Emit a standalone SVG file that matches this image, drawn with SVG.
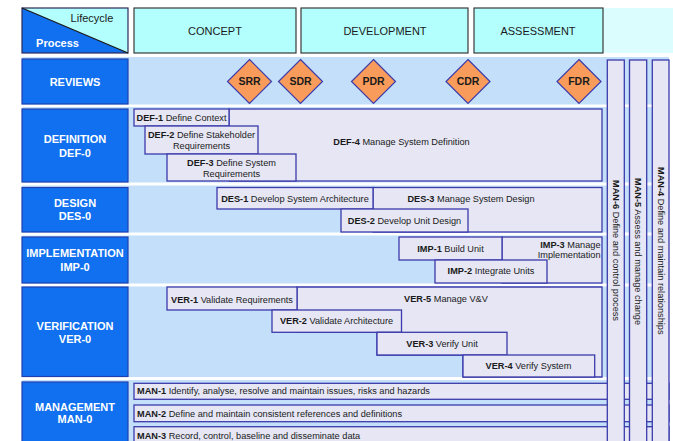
<svg xmlns="http://www.w3.org/2000/svg" width="673" height="441" viewBox="0 0 673 441">
<style>
text{font-family:"Liberation Sans",Arial,sans-serif;fill:#1a1a1a}
.lbl{fill:#1070ef;stroke:#2040b0;stroke-width:1.2}
.lt{font-size:11px;font-weight:bold;fill:#fff;text-anchor:middle}
.hdr{fill:#b3fffd;stroke:#3a3a3a;stroke-width:1.2}
.ht{font-size:11px;text-anchor:middle}
.box{fill:#e6e6f4;stroke:#3b3bab;stroke-width:1.3}
.pt{font-size:9.2px;text-anchor:middle}
.ptl{font-size:9.2px}
.pte{font-size:9.2px;text-anchor:end}
.b{font-weight:bold}
.dia{fill:#f99b5a;stroke:#3b3bab;stroke-width:1.2}
.dt{font-size:10.5px;font-weight:bold;text-anchor:middle}
.vt{font-size:9.2px;dominant-baseline:central}
.ws{fill:#ffffff}
</style>
<rect width="673" height="441" fill="#ffffff"/>
<!-- background -->
<rect x="603" y="8" width="70" height="45" fill="#dbfdfd"/>
<rect x="22" y="57" width="647" height="384" fill="#c4dff9"/>
<rect class="ws" x="22" y="104.5" width="647" height="2.5"/>
<rect class="ws" x="22" y="182.5" width="647" height="3"/>
<rect class="ws" x="22" y="232.5" width="647" height="3"/>
<rect class="ws" x="22" y="283.5" width="647" height="3"/>
<rect class="ws" x="22" y="377" width="647" height="3"/>

<g id="header-corner">
<polygon points="22,8 128,8 128,53" fill="#b3fffd"/>
<polygon points="22,8 22,53 128,53" fill="#1070ef"/>
<rect x="22" y="8" width="106" height="45" fill="none" stroke="#2a2a5a" stroke-width="1.2"/>
<line x1="22" y1="8" x2="128" y2="53" stroke="#1a1a1a" stroke-width="1.3"/>
<text x="92" y="22" class="ht">Lifecycle</text>
<text x="57.5" y="46.5" class="lt">Process</text>
</g>
<g id="concept"><rect class="hdr" x="134" y="8" width="162" height="45"/><text class="ht" x="215" y="35">CONCEPT</text></g>
<g id="development"><rect class="hdr" x="301" y="8" width="167" height="45"/><text class="ht" x="385" y="35">DEVELOPMENT</text></g>
<g id="assessment"><rect class="hdr" x="474" y="8" width="129" height="45"/><text class="ht" x="538" y="35">ASSESSMENT</text></g>

<g id="reviews"><rect class="lbl" x="22" y="59" width="106" height="45"/><text class="lt" x="75" y="86">REVIEWS</text></g>
<g id="srr"><polygon class="dia" points="249.5,59.5 271.5,81.5 249.5,103.5 227.5,81.5"/><text class="dt" x="249.5" y="85.3">SRR</text></g>
<g id="sdr"><polygon class="dia" points="300.5,59.5 322.5,81.5 300.5,103.5 278.5,81.5"/><text class="dt" x="300.5" y="85.3">SDR</text></g>
<g id="pdr"><polygon class="dia" points="373.5,59.5 395.5,81.5 373.5,103.5 351.5,81.5"/><text class="dt" x="373.5" y="85.3">PDR</text></g>
<g id="cdr"><polygon class="dia" points="468,59.5 490,81.5 468,103.5 446,81.5"/><text class="dt" x="468" y="85.3">CDR</text></g>
<g id="fdr"><polygon class="dia" points="579,59.5 601,81.5 579,103.5 557,81.5"/><text class="dt" x="579" y="85.3">FDR</text></g>

<g id="definition"><rect class="lbl" x="22" y="109" width="106" height="73"/><text class="lt" x="75" y="143">DEFINITION</text><text class="lt" x="75" y="156.5">DEF-0</text></g>
<g id="def-4"><rect class="box" x="229" y="109" width="373" height="72"/><text class="pt" x="401.5" y="145"><tspan class="b">DEF-4</tspan> Manage System Definition</text></g>
<g id="def-1"><rect class="box" x="134" y="109" width="95" height="17"/><text class="pt" x="181.5" y="121.3"><tspan class="b">DEF-1</tspan> Define Context</text></g>
<g id="def-2"><rect class="box" x="145" y="126" width="113" height="28"/><text class="pt" x="201.5" y="137.6"><tspan class="b">DEF-2</tspan> Define Stakeholder</text><text class="pt" x="201.5" y="149">Requirements</text></g>
<g id="def-3"><rect class="box" x="167" y="154" width="129" height="27"/><text class="pt" x="231.5" y="166"><tspan class="b">DEF-3</tspan> Define System</text><text class="pt" x="231.5" y="177.3">Requirements</text></g>

<g id="design"><rect class="lbl" x="22" y="187.5" width="106" height="44.5"/><text class="lt" x="75" y="207">DESIGN</text><text class="lt" x="75" y="220">DES-0</text></g>
<g id="des-3"><rect class="box" x="373" y="187.5" width="229" height="44.5"/><text class="pt" x="471" y="201.6"><tspan class="b">DES-3</tspan> Manage System Design</text></g>
<g id="des-1"><rect class="box" x="217" y="187.5" width="156" height="21.5"/><text class="pt" x="295" y="201.6"><tspan class="b">DES-1</tspan> Develop System Architecture</text></g>
<g id="des-2"><rect class="box" x="341" y="209" width="127" height="23"/><text class="pt" x="404.5" y="224"><tspan class="b">DES-2</tspan> Develop Unit Design</text></g>

<g id="implementation"><rect class="lbl" x="22" y="237" width="106" height="46"/><text class="lt" x="75" y="257.3">IMPLEMENTATION</text><text class="lt" x="75" y="270.7">IMP-0</text></g>
<g id="imp-3"><rect class="box" x="502" y="237" width="100" height="46"/><text class="pte" x="600.5" y="247.6"><tspan class="b">IMP-3</tspan> Manage</text><text class="pte" x="600.5" y="257.6">Implementation</text></g>
<g id="imp-1"><rect class="box" x="399" y="237" width="103" height="23"/><text class="pt" x="450.5" y="252"><tspan class="b">IMP-1</tspan> Build Unit</text></g>
<g id="imp-2"><rect class="box" x="435" y="260" width="112" height="23"/><text class="pt" x="491" y="274.3"><tspan class="b">IMP-2</tspan> Integrate Units</text></g>

<g id="verification"><rect class="lbl" x="22" y="287" width="106" height="89.5"/><text class="lt" x="75" y="330">VERIFICATION</text><text class="lt" x="75" y="343">VER-0</text></g>
<g id="ver-5"><polygon class="box" points="297,287 602,287 602,377 463,377 463,355 377,355 377,332 297,332"/><text class="pt" x="446" y="301.8"><tspan class="b">VER-5</tspan> Manage V&amp;V</text></g>
<g id="ver-1"><rect class="box" x="167" y="287" width="130" height="23"/><text class="pt" x="232" y="302.6"><tspan class="b">VER-1</tspan> Validate Requirements</text></g>
<g id="ver-2"><rect class="box" x="272" y="310" width="129.5" height="22.3"/><text class="pt" x="336.5" y="324"><tspan class="b">VER-2</tspan> Validate Architecture</text></g>
<g id="ver-3"><rect class="box" x="377" y="332.3" width="130" height="22.7"/><text class="pt" x="442" y="346.6"><tspan class="b">VER-3</tspan> Verify Unit</text></g>
<g id="ver-4"><rect class="box" x="463" y="355" width="131.7" height="22"/><text class="pt" x="528.5" y="369"><tspan class="b">VER-4</tspan> Verify System</text></g>

<g id="management"><rect class="lbl" x="22" y="382" width="106" height="62"/><text class="lt" x="75" y="411.3">MANAGEMENT</text><text class="lt" x="75" y="423.3">MAN-0</text></g>
<g id="man-1"><rect class="box" x="134" y="383.3" width="535" height="16"/><text class="ptl" x="137" y="394.3"><tspan class="b">MAN-1</tspan> Identify, analyse, resolve and maintain issues, risks and hazards</text></g>
<g id="man-2"><rect class="box" x="134" y="405" width="535" height="16.7"/><text class="ptl" x="137" y="416.6"><tspan class="b">MAN-2</tspan> Define and maintain consistent references and definitions</text></g>
<g id="man-3"><rect class="box" x="134" y="426.7" width="535" height="20"/><text class="ptl" x="137" y="439.3"><tspan class="b">MAN-3</tspan> Record, control, baseline and disseminate data</text></g>

<g id="man-6"><rect class="box" x="607.3" y="60" width="17" height="390"/><text class="vt" transform="translate(615.8,180) rotate(90)"><tspan class="b">MAN-6</tspan> Define and control process</text></g>
<g id="man-5"><rect class="box" x="629.5" y="60" width="17.2" height="390"/><text class="vt" transform="translate(638.1,178) rotate(90)"><tspan class="b">MAN-5</tspan> Assess and manage change</text></g>
<g id="man-4"><rect class="box" x="652.3" y="60" width="16.7" height="390"/><text class="vt" transform="translate(660.6,167) rotate(90)"><tspan class="b">MAN-4</tspan> Define and maintain relationships</text></g>

<g id="connectors"></g>
</svg>
